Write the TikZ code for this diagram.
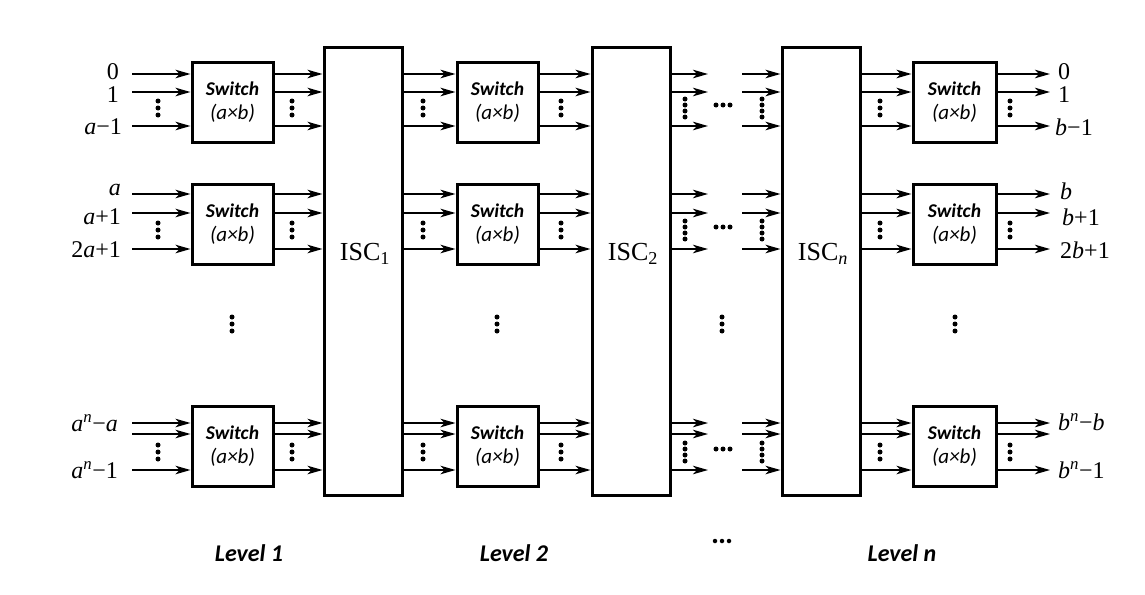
\documentclass[tikz,border=0pt]{standalone}
\usepackage{fontspec}
\setmainfont{Liberation Serif}
\newfontfamily\carl{Carlito}
\usetikzlibrary{arrows.meta}
\newcommand{\mi}[1]{\textit{#1}}
\newcommand{\swtext}{{\bfseries\itshape Switch}\\{\itshape\fontsize{21}{24}\selectfont(a×b)}}
\begin{document}
\begin{tikzpicture}[x=1pt,y=-1pt,
  arr/.style={line width=1.6pt,-{Stealth[length=15pt,width=8.5pt,inset=4pt]}},
  box/.style={draw,line width=3pt,inner sep=0pt},
  swbox/.style={box,minimum width=81pt,minimum height=80pt,align=center,font=\carl\fontsize{19.5}{24}\selectfont},
  iscbox/.style={box,minimum width=78pt,minimum height=447pt},
  lab/.style={font=\fontsize{24}{26}\selectfont,inner sep=0pt},
  isclab/.style={font=\fontsize{26}{28}\selectfont,inner sep=0pt},
  lvl/.style={font=\carl\bfseries\itshape\fontsize{24}{28}\selectfont,inner sep=0pt},
  dot/.style={circle,fill,inner sep=0pt,minimum size=5pt}
]
\useasboundingbox[fill=white] (0,0) rectangle (1145,594);

% ISC boxes
\node[iscbox] (isc1) at (363,271.5) {};
\node[iscbox] (isc2) at (631,271.5) {};
\node[iscbox] (iscn) at (821,271.5) {};
\node[isclab] (t1) at (365,254) {ISC\textsubscript{1}};
\node[isclab] (t2) at (633,254) {ISC\textsubscript{2}};
\node[isclab] (tn) at (823,254) {ISC\textsubscript{\mi{n}}};

% rows: index / box centre / three line heights / dot centre
\foreach \r/\c/\ya/\yb/\yc/\yd in {1/102.5/74/92/126/108, 2/224.5/194/213/249/230, 3/446/423/434/470/452}{
  \node[swbox] (s1-\r) at (232.5,\c) {\swtext};
  \node[swbox] (s2-\r) at (497.5,\c) {\swtext};
  \node[swbox,minimum width=83pt] (sn-\r) at (954.5,\c) {\swtext};
  \foreach \y in {\ya,\yb,\yc}{
    \coordinate (in-\r-\y) at (132,\y);
    \coordinate (e2-\r-\y) at (708,\y);
    \coordinate (s3-\r-\y) at (742,\y);
    \coordinate (out-\r-\y) at (1050,\y);
    \draw[arr] (in-\r-\y) -- (s1-\r.west |- 0,\y);
    \draw[arr] (s1-\r.east |- 0,\y) -- (isc1.west |- 0,\y);
    \draw[arr] (isc1.east |- 0,\y) -- (s2-\r.west |- 0,\y);
    \draw[arr] (s2-\r.east |- 0,\y) -- (isc2.west |- 0,\y);
    \draw[arr] (isc2.east |- 0,\y) -- (e2-\r-\y);
    \draw[arr] (s3-\r-\y) -- (iscn.west |- 0,\y);
    \draw[arr] (iscn.east |- 0,\y) -- (sn-\r.west |- 0,\y);
    \draw[arr] (sn-\r.east |- 0,\y) -- (out-\r-\y);
  }
  % three-dot columns
  \foreach \x in {158,292,423,561,880,1010}{
    \foreach \d in {-7,0,7} \node[dot] at (\x,\yd+\d) {};
  }
  % four-dot columns
  \foreach \x in {685,762}{
    \foreach \d in {-9,-3,3,9} \node[dot] at (\x,\yd+\d) {};
  }
  % horizontal dots
  \foreach \x in {716,723,730} \node[dot] at (\x,\yd-3) {};
}

% middle vertical dots
\foreach \x in {232,497,722,955}{
  \foreach \y in {317,324,331} \node[dot] at (\x,\y) {};
}

% left labels
\node[lab,anchor=east] (l0) at (119,72) {0};
\node[lab,anchor=east] (l1) at (119,95) {1};
\node[lab,anchor=east] (l2) at (122,127) {\mi{a}−1};
\node[lab,anchor=east] (l3) at (121,190) {\mi{a}};
\node[lab,anchor=east] (l4) at (121,217) {\mi{a}+1};
\node[lab,anchor=east] (l5) at (121,250) {2\mi{a}+1};
\node[lab,anchor=east] (l6) at (118,423) {\mi{a}\textsuperscript{\mi{n}}−\mi{a}};
\node[lab,anchor=east] (l7) at (118,470) {\mi{a}\textsuperscript{\mi{n}}−1};

% right labels
\node[lab,anchor=west] (r0) at (1058,72) {0};
\node[lab,anchor=west] (r1) at (1058,95) {1};
\node[lab,anchor=west] (r2) at (1055,127) {\mi{b}−1};
\node[lab,anchor=west] (r3) at (1060,191) {\mi{b}};
\node[lab,anchor=west] (r4) at (1062,217) {\mi{b}+1};
\node[lab,anchor=west] (r5) at (1060,250) {2\mi{b}+1};
\node[lab,anchor=west] (r6) at (1058,422) {\mi{b}\textsuperscript{\mi{n}}−\mi{b}};
\node[lab,anchor=west] (r7) at (1058,470) {\mi{b}\textsuperscript{\mi{n}}−1};

% level labels
\node[lvl] (lv1) at (249,553) {Level 1};
\node[lvl] (lv2) at (514,553) {Level 2};
\node[lvl] (lvn) at (902,553) {Level n};
\foreach \x in {715,722,729} \node[dot,minimum size=4.5pt] at (\x,541) {};
\end{tikzpicture}
\end{document}
